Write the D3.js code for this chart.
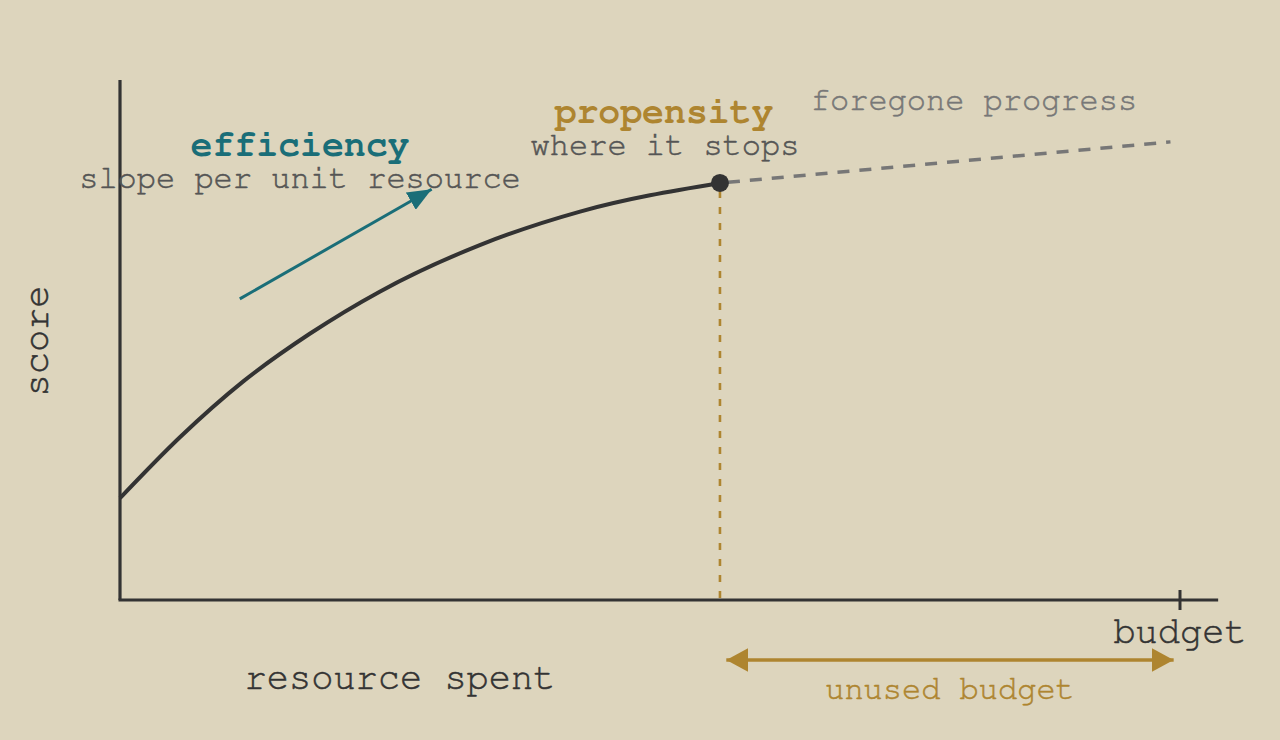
<!DOCTYPE html>
<html>
<head>
<meta charset="utf-8">
<script src="https://cdn.jsdelivr.net/npm/d3@7"></script>
<style>
  html, body { margin: 0; padding: 0; background: #ddd5bd; }
  svg { display: block; }
  text { font-family: "Nimbus Mono PS", "Nimbus Mono L", "FreeMono", "Courier", "Courier New", monospace; }
</style>
</head>
<body>
<div id="chart"></div>
<script>
// curve (resource spent -> score)
var curveX = [0, 0.57, 1.16, 1.79, 2.45, 3.40, 4.34, 5.66];
var curveY = [1.96, 3.14, 4.20, 5.12, 5.93, 6.83, 7.47, 8.02];

// foregone progress past the stop point
var foregoneX = [5.66, 9.91];
var foregoneY = [8.02, 8.81];

var stopX = 5.66,
    stopY = 8.02,
    budgetX = 10;

var labels = {
    eff: "efficiency",
    effSub: "slope per unit resource",
    prop: "propensity",
    propSub: "where it stops",
    fore: "foregone progress",
    xLab: "resource spent",
    yLab: "score",
    budget: "budget",
    unused: "unused budget"
};

var w = 1280,
    h = 740;

var colors = {
    bg: "#ddd5bd",
    ink: "#333333",
    teal: "#1a6e78",
    gold: "#ae8530",
    grey: "#777777",
    sub: "#555555"
};

var svg = d3.select("#chart")
    .append("svg")
    .attr("width", w)
    .attr("height", h)
    .style("background", colors.bg);

// scales
var xScale = d3.scaleLinear().domain([0, 10]).range([120, 1180]);
var yScale = d3.scaleLinear().domain([0, 10]).range([600, 80]);

// arrow markers
var defs = svg.append("defs");

function addMarker(id, color, len, half) {
    defs.append("marker")
        .attr("id", id)
        .attr("markerUnits", "userSpaceOnUse")
        .attr("viewBox", (-len) + " " + (-half) + " " + len + " " + (half * 2))
        .attr("refX", 0)
        .attr("refY", 0)
        .attr("markerWidth", len)
        .attr("markerHeight", half * 2)
        .attr("orient", "auto-start-reverse")
        .append("path")
        .attr("d", "M0,0 L" + (-len) + "," + (-half) + " L" + (-len) + "," + half + " Z")
        .attr("fill", color);
}
addMarker("tealHead", colors.teal, 24, 10);
addMarker("goldHead", colors.gold, 22, 12);

// axes (plain lines, no ticks)
svg.append("line")
    .attr("x1", xScale(0)).attr("y1", yScale(0))
    .attr("x2", xScale(0)).attr("y2", yScale(10))
    .attr("stroke", colors.ink)
    .attr("stroke-width", 3.2);

svg.append("line")
    .attr("x1", xScale(0) - 1.5).attr("y1", yScale(0))
    .attr("x2", xScale(10.36)).attr("y2", yScale(0))
    .attr("stroke", colors.ink)
    .attr("stroke-width", 3.2);

// budget tick
svg.append("line")
    .attr("x1", xScale(budgetX)).attr("y1", yScale(0) - 10)
    .attr("x2", xScale(budgetX)).attr("y2", yScale(0) + 10)
    .attr("stroke", colors.ink)
    .attr("stroke-width", 3);

// vertical dotted line from the stop point
svg.append("line")
    .attr("x1", xScale(stopX)).attr("y1", yScale(stopY) + 8)
    .attr("x2", xScale(stopX)).attr("y2", yScale(0))
    .attr("stroke", colors.gold)
    .attr("stroke-width", 2.6)
    .attr("stroke-dasharray", "7,9");

// foregone progress (dashed)
var foregone = foregoneX.map(function (d, i) { return [d, foregoneY[i]]; });
svg.append("path")
    .datum(foregone)
    .attr("d", d3.line()
        .x(function (d) { return xScale(d[0]); })
        .y(function (d) { return yScale(d[1]); }))
    .attr("fill", "none")
    .attr("stroke", colors.grey)
    .attr("stroke-width", 3.5)
    .attr("stroke-dasharray", "12,10")
    .attr("stroke-dashoffset", -8);

// main curve
var pts = curveX.map(function (d, i) { return [d, curveY[i]]; });
svg.append("path")
    .datum(pts)
    .attr("d", d3.line()
        .curve(d3.curveMonotoneX)
        .x(function (d) { return xScale(d[0]); })
        .y(function (d) { return yScale(d[1]); }))
    .attr("fill", "none")
    .attr("stroke", colors.ink)
    .attr("stroke-width", 4);

// stop point
svg.append("circle")
    .attr("cx", xScale(stopX))
    .attr("cy", yScale(stopY))
    .attr("r", 9)
    .attr("fill", colors.ink);

// efficiency arrow
svg.append("line")
    .attr("x1", xScale(1.13)).attr("y1", yScale(5.79))
    .attr("x2", xScale(2.94)).attr("y2", yScale(7.90))
    .attr("stroke", colors.teal)
    .attr("stroke-width", 3)
    .attr("marker-end", "url(#tealHead)");

// unused budget arrow
svg.append("line")
    .attr("x1", xScale(stopX + 0.06)).attr("y1", 660)
    .attr("x2", xScale(budgetX - 0.06)).attr("y2", 660)
    .attr("stroke", colors.gold)
    .attr("stroke-width", 3.5)
    .attr("marker-start", "url(#goldHead)")
    .attr("marker-end", "url(#goldHead)");

// texts
function label(txt, x, y, size, color, weight) {
    var t = svg.append("text")
        .attr("x", x)
        .attr("y", y)
        .attr("text-anchor", "middle")
        .style("font-size", size + "px")
        .style("font-weight", weight || "normal")
        .attr("fill", color)
        .text(txt);
    // the reference glyphs are a touch heavier
    if (!weight) t.attr("stroke", color).attr("stroke-width", 0.5);
    return t;
}

label(labels.eff, 300, 156, 36.5, colors.teal, "bold");
label(labels.effSub, 300, 188, 32, colors.sub);
label(labels.prop, 664, 123, 36.5, colors.gold, "bold");
label(labels.propSub, 665, 155, 32, colors.sub);
label(labels.fore, 974, 110, 32, colors.grey);
label(labels.xLab, 400, 689, 37, colors.ink);
label(labels.budget, 1180, 643, 37, colors.ink);
label(labels.unused, 950, 699, 32, colors.gold);

svg.append("text")
    .attr("transform", "translate(48," + 341 + ") rotate(-90)")
    .attr("text-anchor", "middle")
    .style("font-size", "37px")
    .attr("fill", colors.ink)
    .attr("stroke", colors.ink)
    .attr("stroke-width", 0.5)
    .text(labels.yLab);
</script>
</body>
</html>
